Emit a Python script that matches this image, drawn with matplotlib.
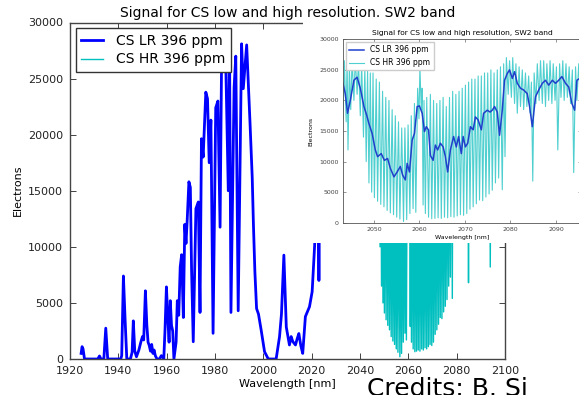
import numpy as np
import matplotlib.pyplot as plt
from matplotlib.patches import Rectangle

# low resolution signal, whole SW2 band
lr_nm = [1924.6, 1925.0, 1925.4, 1926.0, 1931.5, 1932.2, 1932.8, 1934.0, 1934.8, 1935.6,
         1941.0, 1941.4, 1942.1, 1942.8, 1943.5, 1945.0, 1945.7, 1946.2, 1946.8, 1947.5,
         1948.5, 1949.3, 1950.0, 1950.5, 1951.2, 1951.8, 1952.3, 1952.8, 1953.3, 1953.8,
         1954.3, 1954.8, 1955.3, 1956.0, 1957.0, 1957.8, 1958.8, 1959.3, 1959.9, 1960.5,
         1961.0, 1961.5, 1962.0, 1962.5, 1963.0, 1963.9, 1964.4, 1965.0, 1965.6, 1966.2,
         1966.9, 1967.5, 1968.0, 1968.5, 1969.2, 1969.8, 1970.3, 1971.0, 1972.1, 1973.1,
         1973.8, 1974.4, 1975.1, 1976.2, 1976.9, 1977.6, 1978.3, 1979.2, 1980.3, 1981.2,
         1982.1, 1982.8, 1983.6, 1984.3, 1985.5, 1986.0, 1986.6, 1987.9, 1988.6, 1989.6,
         1991.0, 1991.7, 1993.1, 1993.8, 1994.5, 1995.4, 1995.9, 1996.5, 1997.2, 1998.0,
         1999.1, 2000.5, 2001.9, 2002.5, 2005.3, 2006.7, 2007.5, 2008.5, 2009.5, 2010.8,
         2011.5, 2012.2, 2013.3, 2014.0, 2014.7, 2015.5, 2016.3, 2017.4, 2018.2, 2019.1,
         2020.2, 2021.2, 2022.0, 2022.7, 2023.0, 2023.3, 2026.0, 2028.5, 2031.0, 2034.0,
         2037.0, 2040.0, 2042.5]
lr_el = [500, 1100, 900, 0, 0, 270, 0, 0, 2750, 0,
         0, 300, 7400, 3500, 0, 0, 600, 3400, 700, 200,
         800, 1500, 2000, 1700, 6080, 3000, 1500, 1200, 700, 1300,
         500, 800, 300, 0, 0, 300, 0, 2500, 6430, 3500,
         1500, 5200, 3000, 2500, 0, 1500, 5200, 3900, 8200, 9300,
         3700, 12000, 10300, 12400, 15800, 15300, 8000, 1540, 13400, 14000,
         4150, 19640, 18000, 23790, 23200, 17500, 21300, 2290, 22400, 23000,
         11750, 28500, 26000, 28000, 15000, 28500, 4150, 24200, 27000, 4300,
         28100, 24100, 28000, 24500, 21000, 16200, 12000, 7800, 4500, 4000,
         2580, 650, 60, 0, 0, 1990, 4000, 9260, 2850, 1250,
         2000, 1550, 1250, 1800, 2270, 1200, 500, 3780, 4200, 4660,
         6000, 10000, 14000, 15000, 7000, 16000, 19000, 17000, 21000, 20000,
         22000, 21500, 22500]

# low resolution, zoomed part
zoom_nm = [2043.2, 2043.7, 2044.2, 2044.8, 2045.6, 2046.3, 2047.0, 2047.8, 2048.4, 2048.9,
           2049.6, 2050.3, 2050.8, 2051.6, 2052.3, 2053.0, 2053.6, 2054.4, 2055.1, 2055.8,
           2056.3, 2056.9, 2057.3, 2057.8, 2058.4, 2058.9, 2059.5, 2060.0, 2060.6, 2061.1,
           2061.5, 2062.0, 2062.4, 2063.0, 2063.5, 2064.0, 2064.6, 2065.2, 2065.7, 2066.2,
           2066.8, 2067.5, 2068.1, 2068.6, 2069.2, 2069.6, 2070.1, 2070.6, 2071.2, 2071.8,
           2072.3, 2072.9, 2073.6, 2074.1, 2074.9, 2075.5, 2076.0, 2076.5, 2077.1, 2077.6,
           2078.2, 2078.7, 2079.3, 2079.8, 2080.4, 2080.9, 2081.5, 2082.2, 2082.9, 2083.7,
           2084.2, 2084.8, 2085.5, 2086.2, 2087.0, 2087.7, 2088.4, 2089.2, 2089.9, 2090.6,
           2091.3, 2092.1, 2092.8, 2093.5, 2094.1, 2094.6, 2095.2]
zoom_lr = [22800, 21100, 17900, 20000, 23300, 23800, 22000, 19000, 17600, 16200,
           14600, 11900, 10800, 11300, 10200, 10500, 8900, 7500, 8300, 9200,
           7800, 7000, 9700, 8300, 13500, 14600, 19000, 19100, 17900, 14900,
           15700, 15150, 11000, 10200, 12700, 11900, 13000, 12400, 10800, 8300,
           11900, 14100, 12400, 14100, 11300, 14100, 12400, 13000, 15700, 15200,
           17300, 16800, 15200, 17900, 18400, 18100, 18400, 19000, 18100, 14300,
           18400, 23300, 24400, 25000, 23600, 24700, 22800, 22000, 21700, 21100,
           19000, 15700, 20600, 21700, 22800, 23300, 22500, 23300, 22800, 23300,
           23900, 22800, 22200, 19500, 18400, 23300, 23600]

# high resolution (line tops and line bottoms)
hr_nm = [2043.2, 2043.5, 2043.9, 2044.1, 2044.3, 2044.6, 2044.9, 2045.2, 2045.6, 2045.9,
         2046.3, 2046.6, 2047.0, 2047.3, 2047.7, 2048.0, 2048.3, 2048.6, 2048.9, 2049.2,
         2049.5, 2049.8, 2050.1, 2050.5, 2050.8, 2051.2, 2051.5, 2051.9, 2052.2, 2052.6,
         2052.9, 2053.3, 2053.6, 2054.0, 2054.3, 2054.7, 2055.0, 2055.4, 2055.7, 2056.1,
         2056.5, 2056.8, 2057.2, 2057.5, 2057.9, 2058.2, 2058.6, 2058.9, 2059.2, 2059.6,
         2059.9, 2060.1, 2060.4, 2060.6, 2060.8, 2061.0, 2061.3, 2061.6, 2062.0, 2062.4,
         2062.7, 2063.1, 2063.4, 2063.8, 2064.1, 2064.5, 2064.8, 2065.2, 2065.5, 2065.9,
         2066.2, 2066.6, 2066.9, 2067.3, 2067.6, 2068.0, 2068.3, 2068.7, 2069.0, 2069.4,
         2069.7, 2070.1, 2070.4, 2070.8, 2071.1, 2071.5, 2071.8, 2072.2, 2072.5, 2072.9,
         2073.2, 2073.6, 2073.9, 2074.3, 2074.6, 2075.0, 2075.3, 2075.7, 2076.0, 2076.4,
         2076.7, 2077.1, 2077.4, 2077.8, 2078.2, 2078.5, 2078.8, 2079.1, 2079.5, 2079.8,
         2080.2, 2080.5, 2080.9, 2081.2, 2081.5, 2081.9, 2082.2, 2082.6, 2082.9, 2083.3,
         2083.6, 2084.0, 2084.3, 2084.6, 2084.9, 2085.2, 2085.6, 2085.9, 2086.3, 2086.6,
         2087.0, 2087.3, 2087.7, 2088.0, 2088.4, 2088.7, 2089.1, 2089.4, 2089.8, 2090.1,
         2090.4, 2090.8, 2091.1, 2091.5, 2091.8, 2092.2, 2092.5, 2092.9, 2093.2, 2093.6,
         2093.9, 2094.3, 2094.6, 2095.0, 2095.3]
hr_el = [17000, 26500, 16500, 27000, 11900, 25500, 18500, 26800, 20000, 27000,
         21000, 26500, 17500, 26000, 14000, 25500, 10000, 25000, 6500, 24500,
         5000, 24500, 4100, 23500, 3500, 23000, 3000, 21500, 2600, 20500,
         2000, 20000, 1600, 18500, 1300, 17500, 900, 16500, 600, 15500,
         200, 15500, 500, 16000, 1500, 17500, 2300, 19500, 1700, 22000,
         17000, 25500, 18500, 22000, 2900, 20000, 1500, 20500, 900, 21000,
         650, 20000, 700, 19500, 800, 20000, 700, 20500, 900, 19000,
         800, 20500, 1000, 21500, 900, 21000, 1100, 21500, 1300, 22000,
         1200, 22500, 1500, 23000, 2200, 23500, 2600, 23500, 3100, 24000,
         3700, 24000, 3600, 24500, 4200, 24500, 4700, 25000, 5300, 24500,
         6500, 25000, 7300, 25500, 5400, 26000, 10800, 27000, 21000, 26500,
         20500, 27000, 19500, 26000, 17900, 25500, 19000, 25000, 18500, 24500,
         19000, 24000, 18000, 23000, 6800, 24500, 19500, 26000, 20000, 26500,
         19500, 26500, 19000, 26000, 20000, 26500, 19500, 26000, 20000, 25500,
         11900, 26000, 20500, 26500, 20000, 26000, 20500, 25500, 19500, 25000,
         8200, 25500, 20000, 26000, 21000]

W, H = 579, 395
fig = plt.figure(figsize=(W / 100, H / 100), dpi=100)

# main plot
ax = fig.add_axes([70 / W, 36 / H, 435 / W, 336.5 / H])
ax.plot(lr_nm + zoom_nm, lr_el + zoom_lr, color='b', lw=2, label='CS LR 396 ppm')
ax.plot(hr_nm, hr_el, color='c', lw=1, label='CS HR 396 ppm')
ax.set_xlim(1920, 2100)
ax.set_ylim(0, 30000)
ax.set_xticks(np.arange(1920, 2101, 20))
ax.set_yticks(np.arange(0, 30001, 5000))
ax.tick_params(direction='in', top=True, right=True, length=4, width=0.6,
               labelsize=8, pad=5, colors='#222222')
for s in ax.spines.values():
    s.set_color('#444444')
    s.set_linewidth(1)
ax.set_title('Signal for CS low and high resolution. SW2 band', fontsize=10, pad=4)
ax.set_xlabel('Wavelength [nm]', fontsize=8, labelpad=2)
ax.set_ylabel('Electrons', fontsize=8, labelpad=4)
leg = ax.legend(loc='upper left', fontsize=10, handlelength=1.6, handletextpad=0.9,
                labelspacing=0.35, borderaxespad=0.4, fancybox=False, framealpha=1)
leg.get_frame().set_edgecolor('#333333')

# the pasted zoom picture covers part of the main plot
fig.patches.append(Rectangle((303 / W, 1 - 243 / H), 1 - 303 / W, 222 / H,
                             transform=fig.transFigure, facecolor='white',
                             edgecolor='none', zorder=1))

ins = fig.add_axes([343 / W, 1 - 222.7 / H, 238 / W, 183.4 / H])
ins.set_zorder(2)
h2, = ins.plot(hr_nm, hr_el, color='#4fcfcf', lw=0.8, label='CS HR 396 ppm')
h1, = ins.plot(zoom_nm, zoom_lr, color='#2040cc', lw=1.1, label='CS LR 396 ppm')
ins.set_xlim(2043.2, 2095.5)
ins.set_ylim(0, 30000)
ins.set_xticks(np.arange(2050, 2091, 10))
ins.set_yticks(np.arange(0, 30001, 5000))
ins.tick_params(direction='in', top=True, right=True, length=2, width=0.4,
                labelsize=4.5, pad=3, colors='#444444')
for s in ins.spines.values():
    s.set_color('#555555')
    s.set_linewidth(0.6)
ins.set_title('Signal for CS low and high resolution, SW2 band', fontsize=5.4, pad=3)
ins.set_xlabel('Wavelength [nm]', fontsize=4.5, labelpad=2)
ins.set_ylabel('Electrons', fontsize=4.5, labelpad=4)
ins.legend(handles=[h1, h2], loc='upper left', fontsize=5.5, handlelength=2,
           borderaxespad=0.4, fancybox=False, framealpha=1)

fig.text(367 / W, -1.4 / H, 'Credits: B. Si', fontsize=18, va='baseline', ha='left')

fig.savefig('out.png', dpi=100)
